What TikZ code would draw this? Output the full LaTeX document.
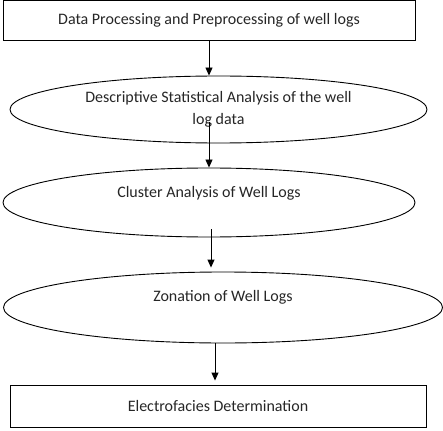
\documentclass[tikz,border=0pt]{standalone}
\usepackage{fontspec}
\setmainfont{Carlito}
\usetikzlibrary{shapes.geometric,arrows.meta}
\begin{document}
\begin{tikzpicture}[x=1pt,y=-1pt,
  every node/.style={font=\fontsize{16}{22}\selectfont, text=black!85},
  stepbox/.style={draw, line width=0.9pt, rectangle, inner sep=0pt},
  stepell/.style={draw, line width=0.9pt, ellipse, inner sep=0pt},
  arr/.style={draw, line width=0.9pt, -{Triangle[length=8pt,width=7pt]}}]
\useasboundingbox (0,0) rectangle (443,430);
\node[stepbox, minimum width=412pt, minimum height=40pt] (b1) at (209,20.5) {Data Processing and Preprocessing of well logs};
\node[stepell, minimum width=417pt, minimum height=67pt, align=center] (e1) at (218.5,109.5) {Descriptive Statistical Analysis of the well\\log data};
\node[stepell, minimum width=412pt, minimum height=69pt, label={[yshift=9.5pt]center:Cluster Analysis of Well Logs}] (e2) at (209,202.5) {};
\node[stepell, minimum width=439pt, minimum height=71pt, label={[yshift=10.5pt]center:Zonation of Well Logs}] (e3) at (223,307.5) {};
\node[stepbox, minimum width=416pt, minimum height=42pt] (b2) at (218,406) {Electrofacies Determination};
\coordinate (c2) at (209,122);
\coordinate (c3) at (211,229);
\coordinate (c4) at (215,343);
\draw[arr] (b1.south) -- (b1.south |- e1.north);
\draw[arr] (c2) -- (c2 |- e2.north);
\draw[arr, shorten >=4pt] (c3) -- (c3 |- e3.north);
\draw[arr, shorten >=4pt] (c4) -- (c4 |- b2.north);
\end{tikzpicture}
\end{document}
